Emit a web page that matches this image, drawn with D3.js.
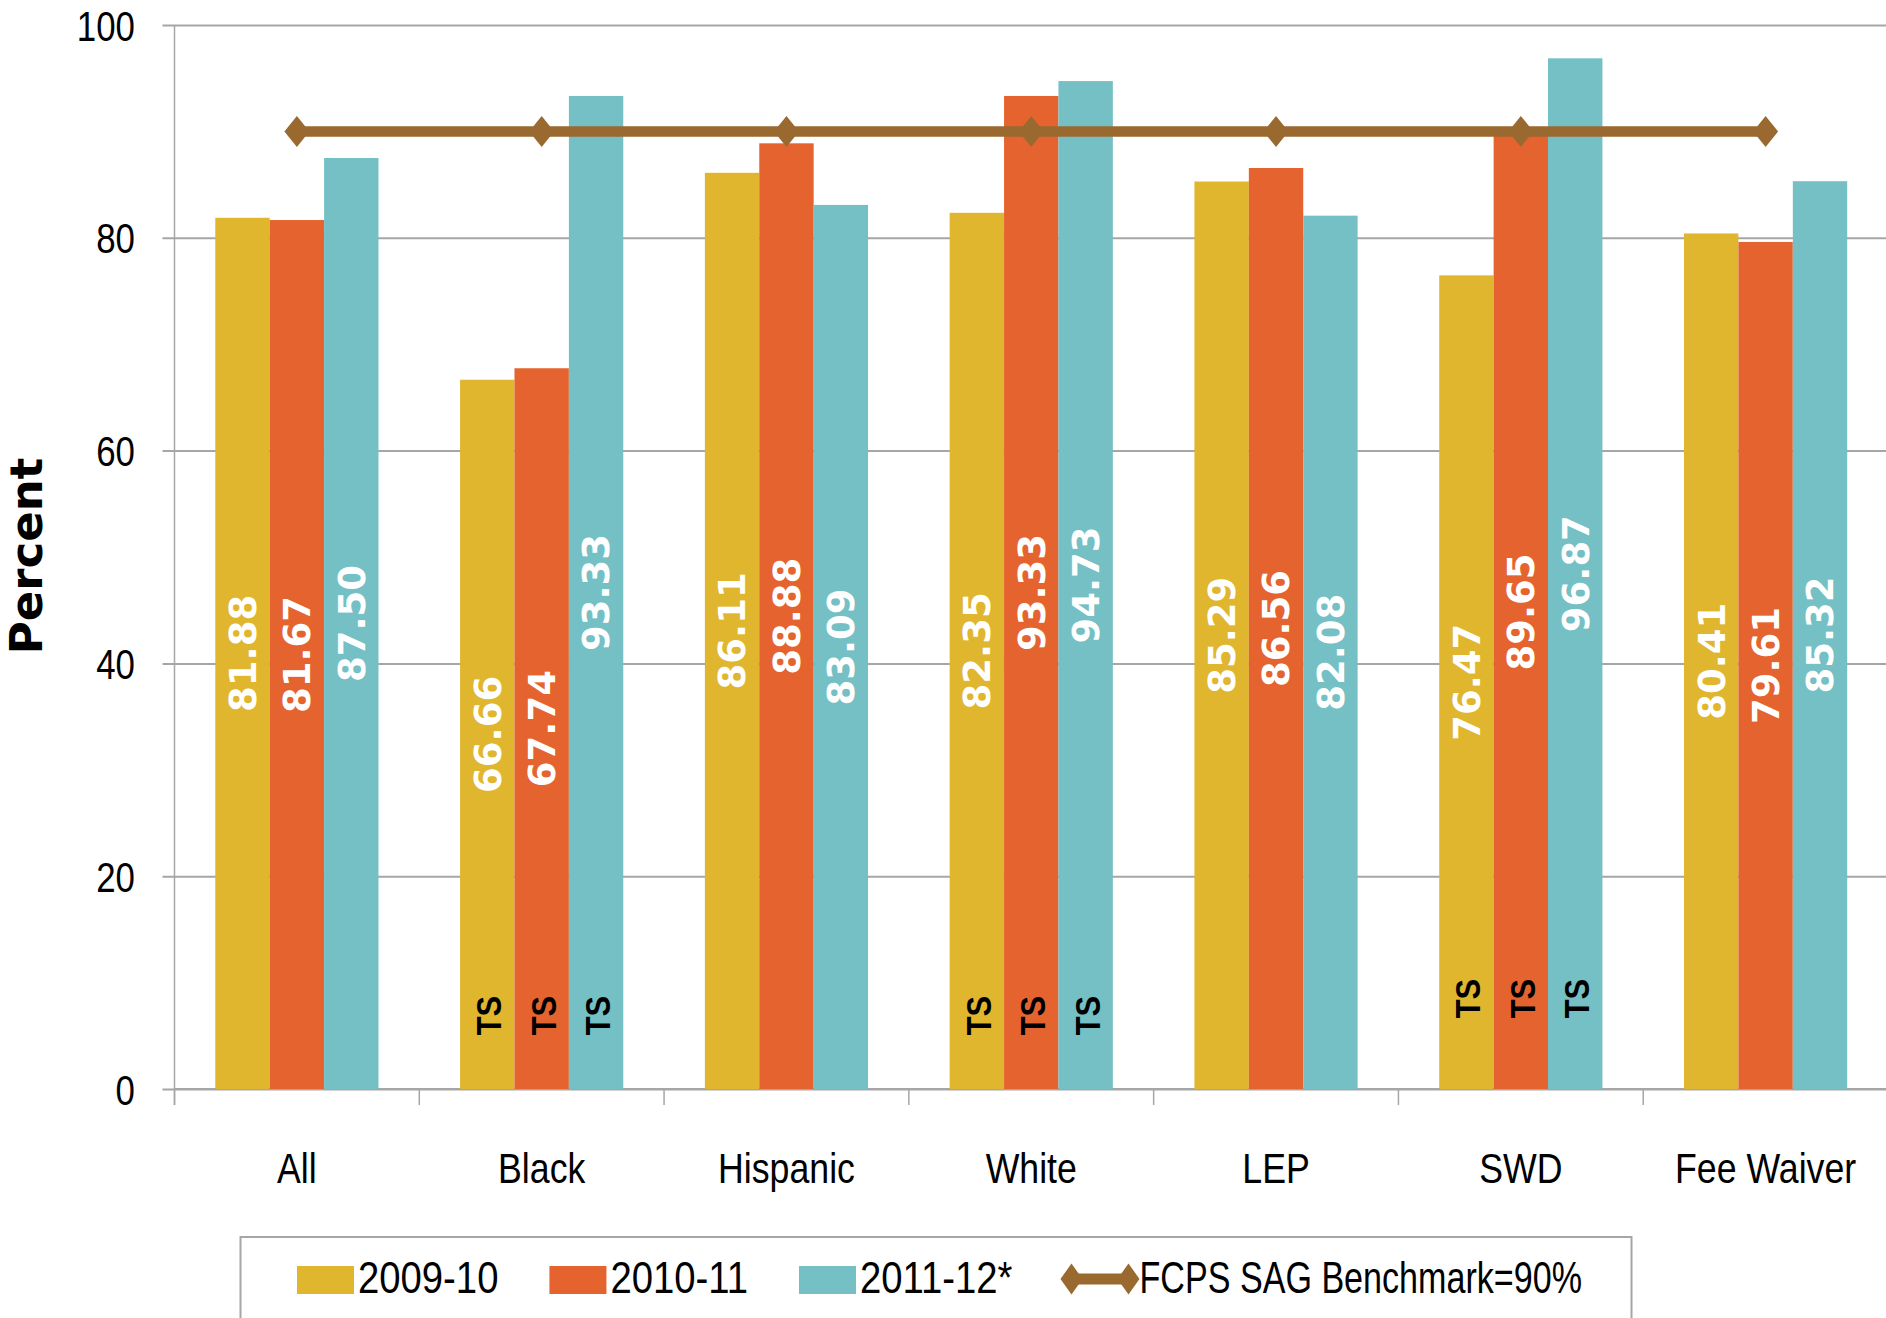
<!DOCTYPE html>
<html>
<head>
<meta charset="utf-8">
<script src="https://cdn.jsdelivr.net/npm/d3@7"></script>
<style>
    body { margin: 0; background: #ffffff; }
    svg { display: block; }
</style>
</head>
<body>
<div id="chart"></div>
<script>
// chart data
var categories = ["All", "Black", "Hispanic", "White", "LEP", "SWD", "Fee Waiver"];
var seriesNames = ["2009-10", "2010-11", "2011-12*"];
var values0910 = [81.88, 66.66, 86.11, 82.35, 85.29, 76.47, 80.41];
var values1011 = [81.67, 67.74, 88.88, 93.33, 86.56, 89.65, 79.61];
var values1112 = [87.50, 93.33, 83.09, 94.73, 82.08, 96.87, 85.32];
var benchmarkName = "FCPS SAG Benchmark=90%";
var benchmark = [90, 90, 90, 90, 90, 90, 90];
// "TS" notes sit inside the bars of some groups, at these levels
var tsLevel = [null, 6.9, null, 6.9, null, 8.5, null];
var yTicks = [0, 20, 40, 60, 80, 100];

var seriesValues = [values0910, values1011, values1112];
var colors = ["#e0b62e", "#e5632e", "#74c0c5"];
var lineColor = "#9a692f";
var gridColor = "#a6a6a6";

// no narrow font installed, so squeeze Liberation Sans horizontally
var sans = "'Liberation Sans', Arial, sans-serif";
var squeeze = function (k) { return " scale(" + k + ",1)"; };
var boldFont = "'DejaVu Sans', Verdana, sans-serif";

var width = 1886, height = 1318;
var svg = d3.select("#chart").append("svg")
    .attr("width", width)
    .attr("height", height);

var plot = { left: 174.5, right: 1888, top: 25, bottom: 1089 };

var x0 = d3.scaleBand()
    .domain(categories)
    .range([plot.left, plot.right])
    .paddingInner(1 / 3)
    .paddingOuter(1 / 6);

var x1 = d3.scaleBand()
    .domain(seriesNames)
    .range([0, x0.bandwidth()])
    .padding(0);

var y = d3.scaleLinear()
    .domain([0, 100])
    .range([plot.bottom, plot.top]);

var step = x0.step();

// gridlines + y axis labels
var yAxis = d3.axisLeft(y)
    .tickValues(yTicks)
    .tickSize(-(plot.right - plot.left))
    .tickFormat(d3.format("d"));

var yG = svg.append("g")
    .attr("transform", "translate(" + plot.left + ",0)")
    .call(yAxis);
yG.select(".domain").remove();
yG.selectAll(".tick line")
    .attr("x1", -12)
    .attr("stroke", gridColor)
    .attr("stroke-width", 2);
yG.selectAll(".tick text")
    .attr("x", null)
    .attr("dy", "0.36em")
    .attr("transform", "translate(-39.5,0)" + squeeze(0.83))
    .attr("font-family", sans)
    .attr("font-size", 42)
    .attr("fill", "#000");

// vertical axis line
svg.append("line")
    .attr("x1", plot.left).attr("x2", plot.left)
    .attr("y1", plot.top).attr("y2", plot.bottom + 16)
    .attr("stroke", gridColor)
    .attr("stroke-width", 1.5);

// category axis: ticks at boundaries between groups
var xAxis = d3.axisBottom(x0)
    .tickSize(0);
var xG = svg.append("g")
    .attr("transform", "translate(0," + plot.bottom + ")")
    .call(xAxis);
xG.select(".domain")
    .attr("stroke", gridColor)
    .attr("stroke-width", 2)
    .attr("d", "M" + plot.left + ",0H" + plot.right);
xG.selectAll(".tick text")
    .attr("y", null)
    .attr("dy", 0)
    .attr("transform", "translate(0,94)" + squeeze(0.85))
    .attr("font-family", sans)
    .attr("font-size", 42)
    .attr("fill", "#000");
xG.selectAll(".boundary")
    .data(categories)
    .enter().append("line")
    .attr("class", "boundary")
    .attr("x1", function (d) { return x0(d) - step / 6; })
    .attr("x2", function (d) { return x0(d) - step / 6; })
    .attr("y1", 0).attr("y2", 16)
    .attr("stroke", gridColor)
    .attr("stroke-width", 1.5);

// bars
var groups = svg.append("g")
    .selectAll("g")
    .data(categories)
    .enter().append("g")
    .attr("transform", function (d) { return "translate(" + x0(d) + ",0)"; });

var cells = groups.selectAll("g")
    .data(function (c, i) {
        return seriesNames.map(function (s, k) {
            return { cat: c, series: s, k: k, value: seriesValues[k][i], ts: tsLevel[i] };
        });
    })
    .enter().append("g");

cells.append("rect")
    .attr("x", function (d) { return x1(d.series); })
    .attr("width", x1.bandwidth())
    .attr("y", function (d) { return y(d.value); })
    .attr("height", function (d) { return y(0) - y(d.value); })
    .attr("fill", function (d) { return colors[d.k]; });

// benchmark line with diamond markers
var cx = function (d, i) { return x0(categories[i]) + x0.bandwidth() / 2; };
var diamond = "M0,-15.5L12.5,0L0,15.5L-12.5,0Z";

svg.append("path")
    .datum(benchmark)
    .attr("fill", "none")
    .attr("stroke", lineColor)
    .attr("stroke-width", 10.5)
    .attr("d", d3.line().x(cx).y(function (d) { return y(d); }));

svg.append("g")
    .selectAll("path")
    .data(benchmark)
    .enter().append("path")
    .attr("d", diamond)
    .attr("fill", lineColor)
    .attr("transform", function (d, i) { return "translate(" + cx(d, i) + "," + y(d) + ")"; });

// value labels, rotated, centred in each bar
cells.append("text")
    .attr("transform", function (d) {
        return "translate(" + (x1(d.series) + x1.bandwidth() / 2) + "," + y(d.value / 2) + ") rotate(-90)";
    })
    .attr("text-anchor", "middle")
    .attr("dy", "0.36em")
    .attr("font-family", boldFont)
    .attr("font-weight", "bold")
    .attr("font-size", 37)
    .attr("fill", "#ffffff")
    .text(function (d) { return d3.format(".2f")(d.value); });

cells.filter(function (d) { return d.ts != null; })
    .append("text")
    .attr("transform", function (d) {
        return "translate(" + (x1(d.series) + x1.bandwidth() / 2 + 1) + "," + y(d.ts) + ") rotate(-90)" + squeeze(0.86);
    })
    .attr("text-anchor", "middle")
    .attr("dy", "0.36em")
    .attr("font-family", sans)
    .attr("font-weight", "bold")
    .attr("font-size", 36)
    .attr("fill", "#000")
    .text("TS");

// y axis title
svg.append("text")
    .attr("transform", "translate(42,556) rotate(-90)")
    .attr("text-anchor", "middle")
    .attr("font-family", boldFont)
    .attr("font-weight", "bold")
    .attr("font-size", 45)
    .attr("fill", "#000")
    .text("Percent");

// legend
svg.append("rect")
    .attr("x", 240.5).attr("y", 1237)
    .attr("width", 1391).attr("height", 120)
    .attr("fill", "#fff")
    .attr("stroke", gridColor)
    .attr("stroke-width", 2);

var legend = svg.append("g");
var lx = 297, baseY = 1293;

seriesNames.forEach(function (s, k) {
    legend.append("rect")
        .attr("x", lx).attr("y", 1266)
        .attr("width", 57).attr("height", 28)
        .attr("fill", colors[k]);
    var t = legend.append("text")
        .attr("transform", "translate(" + (lx + 61) + "," + baseY + ")" + squeeze(0.87))
        .attr("font-family", sans)
        .attr("font-size", 44)
        .attr("fill", "#000")
        .text(s);
    lx = lx + 61 + t.node().getComputedTextLength() * 0.87 + 51;
});

lx = lx - 4;
legend.append("line")
    .attr("x1", lx + 12).attr("x2", lx + 69)
    .attr("y1", 1279).attr("y2", 1279)
    .attr("stroke", lineColor)
    .attr("stroke-width", 11);
[lx + 12, lx + 69].forEach(function (px) {
    legend.append("path")
        .attr("d", "M0,-15.5L11,0L0,15.5L-11,0Z")
        .attr("fill", lineColor)
        .attr("transform", "translate(" + px + ",1279)");
});
legend.append("text")
    .attr("transform", "translate(" + (lx + 80) + "," + baseY + ")" + squeeze(0.775))
    .attr("font-family", sans)
    .attr("font-size", 44)
    .attr("fill", "#000")
    .text(benchmarkName);
</script>
</body>
</html>
